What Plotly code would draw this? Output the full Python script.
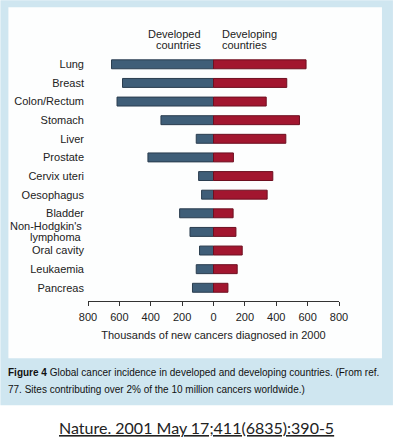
import plotly.graph_objects as go

categories = ["Lung", "Breast", "Colon/Rectum", "Stomach", "Liver", "Prostate",
              "Cervix uteri", "Oesophagus", "Bladder", "Non-Hodgkin's lymphoma",
              "Oral cavity", "Leukaemia", "Pancreas"]
tick_labels = ["Lung", "Breast", "Colon/Rectum", "Stomach", "Liver", "Prostate",
               "Cervix uteri", "Oesophagus", "Bladder", "",
               "Oral cavity", "Leukaemia", "Pancreas"]
developed = [650, 580, 615, 335, 110, 418, 95, 76, 216, 150, 89, 110, 134]
developing = [590, 467, 336, 548, 461, 127, 378, 342, 125, 143, 183, 151, 92]
tick_vals = [-800, -600, -400, -200, 0, 200, 400, 600, 800]
tick_text = ["800", "600", "400", "200", "0", "200", "400", "600", "800"]

W, H = 393, 437
ML, MR, MT, MB = 87.7, 54.0, 54.7, 136.3
PW, PH = W - ML - MR, H - MT - MB

def px(x):
    return (x - ML) / PW

def py(y):
    return (H - MB - y) / PH

BLUE = "#3f5e78"
RED = "#a2162f"
FONT = "Liberation Sans"
TXT = "#222"
FS = 11

fig = go.Figure()
fig.add_trace(go.Bar(y=categories, x=[-v for v in developed], orientation="h",
                     marker=dict(color=BLUE, line=dict(color="#2a3d4f", width=1)),
                     width=0.48, name="Developed"))
fig.add_trace(go.Bar(y=categories, x=developing, orientation="h",
                     marker=dict(color=RED, line=dict(color="#6e0f20", width=1)),
                     width=0.48, name="Developing"))

fig.update_layout(
    width=W, height=H, barmode="relative", showlegend=False,
    margin=dict(l=ML, r=MR, t=MT, b=MB, pad=0, autoexpand=False),
    paper_bgcolor="white", plot_bgcolor="rgba(0,0,0,0)",
    font=dict(family=FONT, size=FS, color=TXT),
    xaxis=dict(range=[-800, 800], tickvals=tick_vals, ticktext=tick_text,
               showgrid=False, zeroline=False, showline=True, linecolor="#333",
               linewidth=1, ticks="outside", ticklen=4, tickcolor="#333",
               ticklabelstandoff=2,
               tickfont=dict(size=FS, color=TXT), automargin=False,
               title=dict(text="Thousands of new cancers diagnosed in 2000",
                          font=dict(size=FS, color=TXT), standoff=9)),
    yaxis=dict(range=[12.71, -0.5], showgrid=False, zeroline=False, showline=False,
               ticks="", tickfont=dict(size=FS, color=TXT), ticklabelstandoff=3,
               tickmode="array", tickvals=categories, ticktext=tick_labels,
               automargin=False),
)

# framed background
fig.add_shape(type="rect", xref="paper", yref="paper", layer="below",
              x0=px(0), x1=px(393), y0=py(405), y1=py(0),
              fillcolor="#cfe6f0", line=dict(width=0))
fig.add_shape(type="rect", xref="paper", yref="paper", layer="below",
              x0=px(8), x1=px(382), y0=py(358), y1=py(7),
              fillcolor="#fdfefe", line=dict(width=0))

# two-line category label with tight line spacing
fig.add_annotation(xref="paper", yref="paper", x=px(84), y=py(225.5),
                   text="Non-Hodgkin's", showarrow=False, xanchor="right",
                   yanchor="middle", font=dict(size=FS, color=TXT))
fig.add_annotation(xref="paper", yref="paper", x=px(84), y=py(236.5),
                   text="lymphoma", showarrow=False, xanchor="right",
                   yanchor="middle", font=dict(size=FS, color=TXT))

fig.add_annotation(xref="paper", yref="paper", x=px(203), y=py(34),
                   text="Developed", showarrow=False, xanchor="right",
                   yanchor="middle", font=dict(size=FS, color=TXT))
fig.add_annotation(xref="paper", yref="paper", x=px(203), y=py(44.5),
                   text="countries", showarrow=False, xanchor="right",
                   yanchor="middle", font=dict(size=FS, color=TXT))
fig.add_annotation(xref="paper", yref="paper", x=px(220), y=py(34),
                   text="Developing", showarrow=False, xanchor="left",
                   yanchor="middle", font=dict(size=FS, color=TXT))
fig.add_annotation(xref="paper", yref="paper", x=px(220), y=py(44.5),
                   text="countries", showarrow=False, xanchor="left",
                   yanchor="middle", font=dict(size=FS, color=TXT))

fig.add_annotation(xref="paper", yref="paper", x=px(6), y=py(372),
                   text="<b>Figure 4</b> Global cancer incidence in developed and developing countries. (From ref.",
                   showarrow=False, xanchor="left", yanchor="middle", align="left",
                   font=dict(family=FONT, size=10, color="#111"))
fig.add_annotation(xref="paper", yref="paper", x=px(6), y=py(389),
                   text="77. Sites contributing over 2% of the 10 million cancers worldwide.)",
                   showarrow=False, xanchor="left", yanchor="middle", align="left",
                   font=dict(family=FONT, size=10, color="#111"))

fig.add_annotation(xref="paper", yref="paper", x=px(196.5), y=py(427),
                   text="<u>Nature. 2001 May 17;411(6835):390-5</u>",
                   showarrow=False, xanchor="center", yanchor="middle",
                   font=dict(family="Lato", size=16, color=TXT))

fig.write_html("out.html", config={"displayModeBar": False},
               post_script="document.body.style.margin='0';document.body.style.padding='0';")
